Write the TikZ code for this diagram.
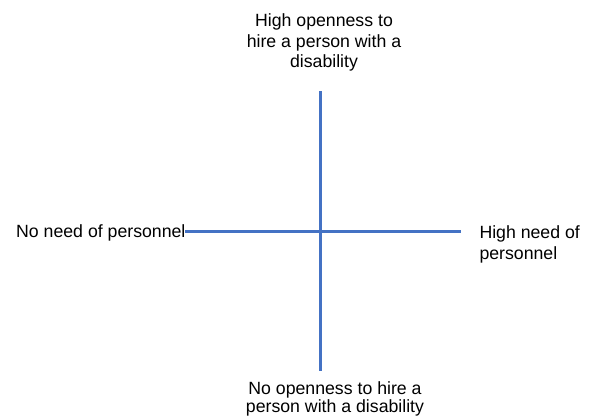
\documentclass[tikz,border=0pt]{standalone}
\usepackage{fontspec}
\setmainfont{Liberation Sans}
\definecolor{axisblue}{HTML}{4472C4}
\begin{document}
\begin{tikzpicture}[x=1pt,y=-1pt,
  lbl/.style={inner sep=0pt, font=\fontsize{17.7}{20.8}\selectfont, text=black},
  axisline/.style={draw=axisblue, line width=2.5pt}]
\useasboundingbox (0,0) rectangle (592,416);
\coordinate (vt) at (320.5,91.3);
\coordinate (vb) at (320.5,370.7);
\coordinate (hl) at (185,231.3);
\coordinate (hr) at (460.7,231.3);
\draw[axisline] (vt) -- (vb);
\draw[axisline] (hl) -- (hr);
\node[lbl, align=center, anchor=north] (top) at (324,13.3) {High openness to\\hire a person with a\\disability};
\node[lbl, align=center, anchor=north, font=\fontsize{17.7}{18.3}\selectfont] (bottom) at (335,381.6) {No openness to hire a\\person with a disability};
\node[lbl, anchor=base west] (left) at (16,237.7) {No need of personnel};
\node[lbl, align=left, anchor=north west] (right) at (479.3,225.6) {High need of\\personnel};
\end{tikzpicture}
\end{document}
